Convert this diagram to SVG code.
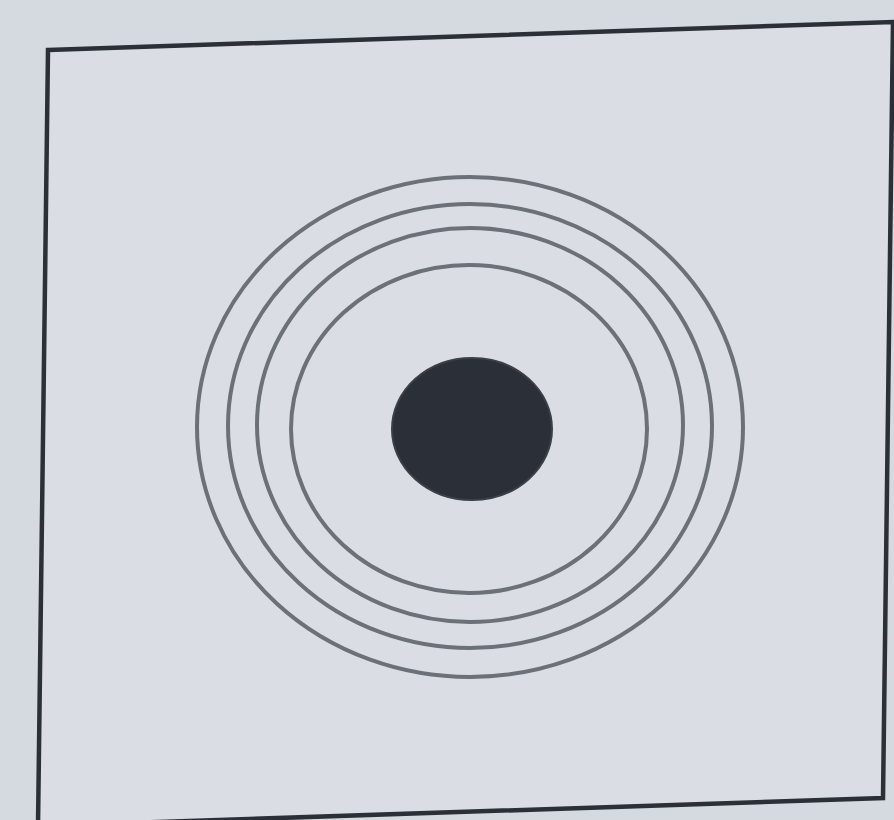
<svg xmlns="http://www.w3.org/2000/svg" width="894" height="820" viewBox="0 0 894 820">
<style>
.ring{fill:none;stroke:#6b7079;stroke-width:4}
.frame{fill:#dadee4;stroke:#2b2f37;stroke-width:4.5;stroke-linejoin:miter}
</style>
<rect width="894" height="820" fill="#d5dae0"/>
<g id="frame">
<polygon class="frame" points="48,50 893,22 883,798 38,826"/>
</g>
<g id="rings">
<ellipse class="ring" cx="470" cy="427" rx="273" ry="250"/>
<ellipse class="ring" cx="470" cy="426" rx="242" ry="222"/>
<ellipse class="ring" cx="470" cy="425" rx="213" ry="197"/>
<ellipse class="ring" cx="469" cy="429" rx="178" ry="164"/>
</g>
<g id="dot">
<ellipse cx="472" cy="429" rx="80" ry="71" fill="#2b2f37" stroke="#3a3f48" stroke-width="2"/>
</g>
</svg>
